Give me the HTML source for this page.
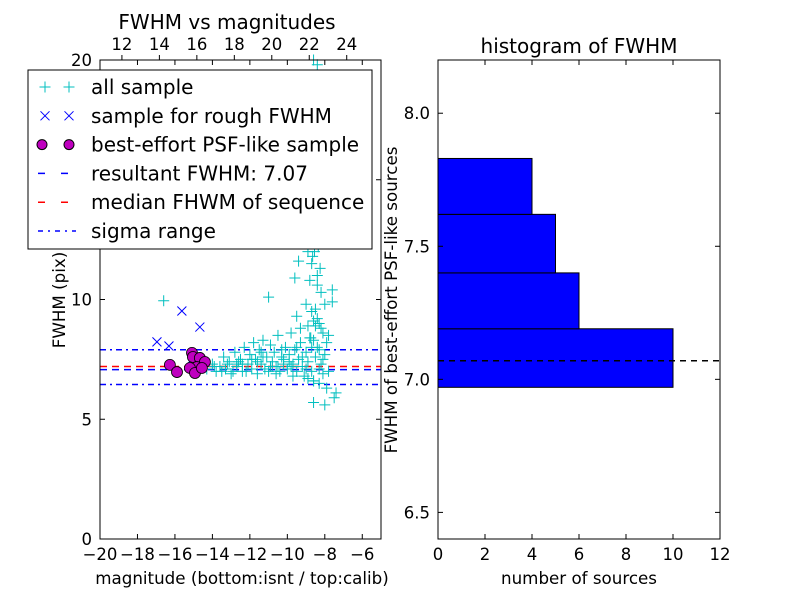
<!DOCTYPE html>
<html><head><meta charset="utf-8"><style>
body{margin:0;background:#fff;}
svg{display:block;font-family:"DejaVu Sans","Liberation Sans",sans-serif;}
</style></head><body>
<svg id="c" width="800" height="600" viewBox="0 0 800 600"></svg>
<script>
const allX=[-16.6,-11.0,-14.3,-14.0,-13.8,-13.6,-13.4,-13.3,-13.1,-13.0,-12.8,-12.7,-12.5,-12.4,-12.3,-12.1,-12.0,-11.9,-11.8,-11.7,-11.6,-11.5,-11.4,-11.3,-11.2,-11.1,-11.0,-10.9,-10.8,-10.7,-10.6,-10.5,-10.4,-10.3,-10.2,-10.1,-10.0,-9.9,-9.8,-9.7,-9.6,-9.5,-9.5,-9.4,-9.3,-9.2,-9.1,-9.0,-8.9,-8.9,-8.8,-8.8,-8.7,-8.7,-8.7,-8.6,-8.6,-8.6,-8.5,-8.5,-8.5,-8.4,-8.4,-8.4,-8.3,-8.3,-8.3,-8.2,-8.2,-8.2,-8.1,-8.1,-8.0,-8.0,-7.9,-7.9,-7.8,-7.6,-7.6,-7.5,-7.4,-8.6,-8.0,-9.3,-9.0,-9.6,-9.4,-8.9,-9.1,-8.8,-8.7,-8.5,-8.3,-8.6,-8.9,-9.7,-10.6,-11.6,-12.2,-13.2,-12.9,-13.9,-13.5,-12.6,-11.3,-10.9,-10.3,-9.9,-9.2,-8.8,-8.4,-8.1,-10.8,-11.9,-12.4,-9.5,-8.2,-7.8,-8.6,-8.3,-8.55,-8.45,-8.65,-8.35,-8.5,-8.75,-8.25,-8.6,-8.4,-8.7,-8.5,-8.3,-10.2,-9.8,-11.4,-12.7,-9.0,-10.5];
const allY=[9.95,10.1,7.1,7.3,7.0,7.2,7.6,7.1,7.4,6.9,7.8,7.2,7.5,7.0,8.0,7.3,7.7,7.1,8.2,7.5,6.9,7.9,7.3,8.3,7.1,7.6,7.0,8.1,7.4,7.8,7.2,8.5,7.0,7.6,7.3,8.0,7.1,7.7,8.6,7.3,7.9,9.3,7.0,7.5,8.2,7.2,6.8,7.8,7.4,8.9,10.8,12.4,7.0,9.5,11.5,6.6,8.3,13.5,14.8,7.6,16.0,19.8,11.0,8.0,6.5,9.0,12.8,7.3,10.3,15.2,8.6,6.9,7.7,9.8,6.3,8.2,7.0,10.4,9.9,5.9,6.1,5.7,5.6,8.8,9.8,10.9,11.6,12.0,13.3,14.0,15.6,17.5,18.5,20.0,6.7,6.8,6.9,7.4,7.0,7.3,7.0,7.2,7.0,7.4,7.6,7.2,7.9,7.4,7.6,8.4,9.2,7.5,7.2,7.5,7.3,8.0,8.8,8.5,6.6,7.1,12.0,13.0,11.8,12.2,9.6,8.4,11.3,9.1,10.6,8.0,8.9,7.9,7.5,7.2,7.8,7.3,7.1,7.2];
const roughX=[-16.96,-16.32,-15.63,-14.67,-15.1,-14.8];
const roughY=[8.23,8.06,9.52,8.85,7.5,7.2];
const bestX=[-16.27,-15.89,-15.09,-15.04,-14.67,-14.40,-14.83,-15.2,-14.93,-14.56];
const bestY=[7.27,6.97,7.77,7.60,7.56,7.39,7.18,7.14,6.93,7.14];
const resultFWHM=7.07, medianFWHM=7.2, sigmaLo=6.45, sigmaHi=7.9;
const binEdges=[6.97,7.19,7.40,7.62,7.83];
const binCounts=[10,6,5,4];
const leftXTicks=[-20,-18,-16,-14,-12,-10,-8,-6];
const leftYTicks=[0,5,10,15,20];
const topTicks=[12,14,16,18,20,22,24];
const histXTicks=[0,2,4,6,8,10,12];
const histYTicks=[6.5,7.0,7.5,8.0];

const NS="http://www.w3.org/2000/svg";
const svg=document.getElementById('c');
function mk(t,a,p){const e=document.createElementNS(NS,t);for(const k in a)e.setAttribute(k,a[k]);(p||svg).appendChild(e);return e;}
function txt(s,x,y,size,anchor,p){const e=mk('text',{x:x,y:y,'font-size':size,'text-anchor':anchor||'middle',fill:'#000'},p);e.textContent=s;return e;}

const L={x0:100,x1:381,y0:60,y1:539};
const lx=v=>L.x0+(v+20)/15*(L.x1-L.x0);
const ly=v=>L.y1-v/20*(L.y1-L.y0);
const tx=v=>lx(v-30.83);
const gL=mk('g',{});


const ln=(y,c,d,n)=>{const e=mk('line',{x1:L.x0,x2:L.x1,y1:ly(y),y2:ly(y),stroke:c,'stroke-width':1.5,'stroke-dasharray':d},gL);};
ln(sigmaHi,'#00f','6,4,2,4','sigma-upper-line');
ln(sigmaLo,'#00f','6,4,2,4','sigma-lower-line');
ln(medianFWHM,'#f00','7,5','median-fwhm-line');
ln(resultFWHM,'#00f','7,5','resultant-fwhm-line');
function plus(x,y,c,p,s){s=s||5.5;mk('path',{d:`M${x-s},${y}H${x+s}M${x},${y-s}V${y+s}`,stroke:c,'stroke-width':1,fill:'none'},p);}
function cross(x,y,c,p,s){s=s||4.5;mk('path',{d:`M${x-s},${y-s}L${x+s},${y+s}M${x-s},${y+s}L${x+s},${y-s}`,stroke:c,'stroke-width':1,fill:'none'},p);}
const gA=mk('g',{},gL);


allX.forEach((v,i)=>plus(lx(v),ly(allY[i]),'#00bfbf',gA));
const gR=mk('g',{},gL);


roughX.forEach((v,i)=>cross(lx(v),ly(roughY[i]),'#0000ff',gR));
const gB=mk('g',{},gL);


bestX.forEach((v,i)=>mk('circle',{cx:lx(v),cy:ly(bestY[i]),r:5.5,fill:'#bf00bf',stroke:'#000','stroke-width':0.8},gB));
mk('rect',{x:L.x0,y:L.y0,width:L.x1-L.x0,height:L.y1-L.y0,fill:'none',stroke:'#000','stroke-width':1},gL);
leftXTicks.forEach(v=>{const x=lx(v);mk('line',{x1:x,x2:x,y1:L.y1,y2:L.y1-5,stroke:'#000'},gL);mk('line',{x1:x,x2:x,y1:L.y0,y2:L.y0+5,stroke:'#000'},gL);txt((v<0?'\u2212':'')+Math.abs(v),x,L.y1+21,16.5,'middle',gL);});
leftYTicks.forEach(v=>{const y=ly(v);mk('line',{x1:L.x0,x2:L.x0+5,y1:y,y2:y,stroke:'#000'},gL);mk('line',{x1:L.x1,x2:L.x1-5,y1:y,y2:y,stroke:'#000'},gL);txt(String(v),L.x0-8,y+6,16.5,'end',gL);});
topTicks.forEach(v=>{const x=tx(v);mk('line',{x1:x,x2:x,y1:L.y0,y2:L.y0-5,stroke:'#000'},gL);txt(String(v),x,L.y0-10,16.5,'middle',gL);});
const xt=txt('magnitude (bottom:isnt / top:calib)',242,584,16.7,'middle',gL);
const yt=txt('FWHM (pix)',65,300,16.7,'middle',gL);yt.setAttribute('transform','rotate(-90 65 300)');
const tt=txt('FWHM vs magnitudes',227,29,20,'middle',gL);

const lg=mk('g',{});


mk('rect',{x:28,y:70,width:344,height:179,fill:'#fff',stroke:'#000','stroke-width':1},lg);
const labels=['all sample','sample for rough FWHM','best-effort PSF-like sample','resultant FWHM: 7.07','median FHWM of sequence','sigma range'];
labels.forEach((s,i)=>{const y=87+i*28.8;
 if(i==0){plus(45,y,'#00bfbf',lg);plus(69,y,'#00bfbf',lg);}
 if(i==1){cross(45,y,'#00f',lg);cross(69,y,'#00f',lg);}
 if(i==2){mk('circle',{cx:42,cy:y,r:5,fill:'#bf00bf',stroke:'#000'},lg);mk('circle',{cx:69,cy:y,r:5,fill:'#bf00bf',stroke:'#000'},lg);}
 if(i==3)mk('line',{x1:38,x2:76,y1:y,y2:y,stroke:'#00f','stroke-width':1.5,'stroke-dasharray':'7,16'},lg);
 if(i==4)mk('line',{x1:38,x2:76,y1:y,y2:y,stroke:'#f00','stroke-width':1.5,'stroke-dasharray':'7,16'},lg);
 if(i==5)mk('line',{x1:38,x2:76,y1:y,y2:y,stroke:'#00f','stroke-width':1.5,'stroke-dasharray':'5,5,2,5'},lg);
 const t=txt(s,91,y+7,20,'start',lg);
 
 
});

const H={x0:438,x1:720,y0:60,y1:539};
const hx=v=>H.x0+v/12*(H.x1-H.x0);
const hy=v=>H.y1-(v-6.4)/(8.2-6.4)*(H.y1-H.y0);
const gH=mk('g',{});


binCounts.forEach((c,i)=>{const r=mk('rect',{x:hx(0),y:hy(binEdges[i+1]),width:hx(c)-hx(0),height:hy(binEdges[i])-hy(binEdges[i+1]),fill:'#0000ff',stroke:'#000','stroke-width':1},gH);
 
 });
const rl=mk('line',{x1:H.x0,x2:H.x1,y1:hy(resultFWHM),y2:hy(resultFWHM),stroke:'#000','stroke-width':1.5,'stroke-dasharray':'6,5'},gH);


mk('rect',{x:H.x0,y:H.y0,width:H.x1-H.x0,height:H.y1-H.y0,fill:'none',stroke:'#000'},gH);
histXTicks.forEach(v=>{const x=hx(v);mk('line',{x1:x,x2:x,y1:H.y1,y2:H.y1-5,stroke:'#000'},gH);mk('line',{x1:x,x2:x,y1:H.y0,y2:H.y0+5,stroke:'#000'},gH);txt(String(v),x,H.y1+21,16.5,'middle',gH);});
histYTicks.forEach(v=>{const y=hy(v);mk('line',{x1:H.x0,x2:H.x0+5,y1:y,y2:y,stroke:'#000'},gH);mk('line',{x1:H.x1,x2:H.x1-5,y1:y,y2:y,stroke:'#000'},gH);txt(v.toFixed(1),H.x0-8,y+6,16.5,'end',gH);});
const hxt=txt('number of sources',579,584,16.7,'middle',gH);
const hyt=txt('FWHM of best-effort PSF-like sources',397,300,16.7,'middle',gH);hyt.setAttribute('transform','rotate(-90 397 300)');
const htt=txt('histogram of FWHM',579,53,20,'middle',gH);
</script>
</body></html>
